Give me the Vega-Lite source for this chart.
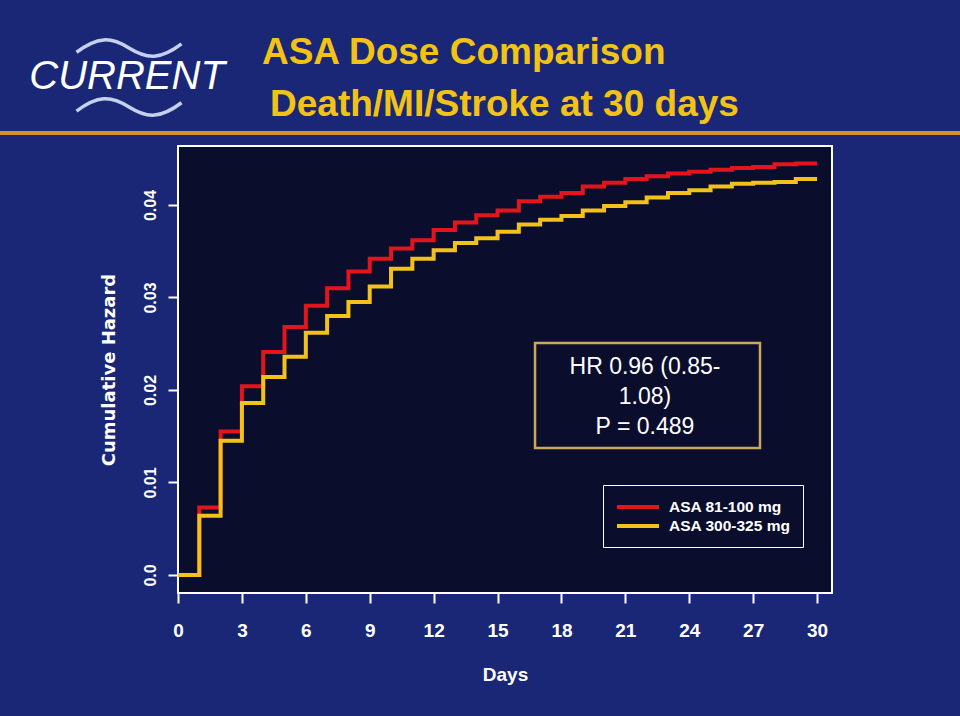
{
  "$schema": "https://vega.github.io/schema/vega-lite/v6.json",
  "width": 654,
  "height": 447,
  "autosize": {"type": "none"},
  "padding": {"left": 178, "top": 146, "right": 128, "bottom": 123},
  "background": "#1a2776",
  "config": {
    "view": {"fill": "#0a0e2c", "stroke": "#ffffff", "strokeWidth": 2},
    "axis": {"grid": false, "domain": false, "tickColor": "#ffffff", "tickWidth": 2, "tickSize": 10, "labelColor": "#ffffff", "titleColor": "#ffffff"}
  },
  "data": {
    "values": [
      {"day": 0, "hazard": 0.0, "group": "ASA 81-100 mg"},
      {"day": 1, "hazard": 0.0073, "group": "ASA 81-100 mg"},
      {"day": 2, "hazard": 0.0155, "group": "ASA 81-100 mg"},
      {"day": 3, "hazard": 0.0204, "group": "ASA 81-100 mg"},
      {"day": 4, "hazard": 0.0241, "group": "ASA 81-100 mg"},
      {"day": 5, "hazard": 0.0268, "group": "ASA 81-100 mg"},
      {"day": 6, "hazard": 0.0291, "group": "ASA 81-100 mg"},
      {"day": 7, "hazard": 0.031, "group": "ASA 81-100 mg"},
      {"day": 8, "hazard": 0.0328, "group": "ASA 81-100 mg"},
      {"day": 9, "hazard": 0.0342, "group": "ASA 81-100 mg"},
      {"day": 10, "hazard": 0.0353, "group": "ASA 81-100 mg"},
      {"day": 11, "hazard": 0.0362, "group": "ASA 81-100 mg"},
      {"day": 12, "hazard": 0.0373, "group": "ASA 81-100 mg"},
      {"day": 13, "hazard": 0.0381, "group": "ASA 81-100 mg"},
      {"day": 14, "hazard": 0.0389, "group": "ASA 81-100 mg"},
      {"day": 15, "hazard": 0.0394, "group": "ASA 81-100 mg"},
      {"day": 16, "hazard": 0.0404, "group": "ASA 81-100 mg"},
      {"day": 17, "hazard": 0.0409, "group": "ASA 81-100 mg"},
      {"day": 18, "hazard": 0.0413, "group": "ASA 81-100 mg"},
      {"day": 19, "hazard": 0.042, "group": "ASA 81-100 mg"},
      {"day": 20, "hazard": 0.0424, "group": "ASA 81-100 mg"},
      {"day": 21, "hazard": 0.0428, "group": "ASA 81-100 mg"},
      {"day": 22, "hazard": 0.0431, "group": "ASA 81-100 mg"},
      {"day": 23, "hazard": 0.0434, "group": "ASA 81-100 mg"},
      {"day": 24, "hazard": 0.0436, "group": "ASA 81-100 mg"},
      {"day": 25, "hazard": 0.0438, "group": "ASA 81-100 mg"},
      {"day": 26, "hazard": 0.044, "group": "ASA 81-100 mg"},
      {"day": 27, "hazard": 0.0441, "group": "ASA 81-100 mg"},
      {"day": 28, "hazard": 0.0444, "group": "ASA 81-100 mg"},
      {"day": 29, "hazard": 0.0445, "group": "ASA 81-100 mg"},
      {"day": 30, "hazard": 0.0445, "group": "ASA 81-100 mg"},
      {"day": 0, "hazard": 0.0, "group": "ASA 300-325 mg"},
      {"day": 1, "hazard": 0.0064, "group": "ASA 300-325 mg"},
      {"day": 2, "hazard": 0.0145, "group": "ASA 300-325 mg"},
      {"day": 3, "hazard": 0.0186, "group": "ASA 300-325 mg"},
      {"day": 4, "hazard": 0.0214, "group": "ASA 300-325 mg"},
      {"day": 5, "hazard": 0.0236, "group": "ASA 300-325 mg"},
      {"day": 6, "hazard": 0.0262, "group": "ASA 300-325 mg"},
      {"day": 7, "hazard": 0.028, "group": "ASA 300-325 mg"},
      {"day": 8, "hazard": 0.0295, "group": "ASA 300-325 mg"},
      {"day": 9, "hazard": 0.0312, "group": "ASA 300-325 mg"},
      {"day": 10, "hazard": 0.0331, "group": "ASA 300-325 mg"},
      {"day": 11, "hazard": 0.0342, "group": "ASA 300-325 mg"},
      {"day": 12, "hazard": 0.0351, "group": "ASA 300-325 mg"},
      {"day": 13, "hazard": 0.0359, "group": "ASA 300-325 mg"},
      {"day": 14, "hazard": 0.0364, "group": "ASA 300-325 mg"},
      {"day": 15, "hazard": 0.0371, "group": "ASA 300-325 mg"},
      {"day": 16, "hazard": 0.0379, "group": "ASA 300-325 mg"},
      {"day": 17, "hazard": 0.0384, "group": "ASA 300-325 mg"},
      {"day": 18, "hazard": 0.0388, "group": "ASA 300-325 mg"},
      {"day": 19, "hazard": 0.0394, "group": "ASA 300-325 mg"},
      {"day": 20, "hazard": 0.0399, "group": "ASA 300-325 mg"},
      {"day": 21, "hazard": 0.0403, "group": "ASA 300-325 mg"},
      {"day": 22, "hazard": 0.0408, "group": "ASA 300-325 mg"},
      {"day": 23, "hazard": 0.0413, "group": "ASA 300-325 mg"},
      {"day": 24, "hazard": 0.0416, "group": "ASA 300-325 mg"},
      {"day": 25, "hazard": 0.042, "group": "ASA 300-325 mg"},
      {"day": 26, "hazard": 0.0423, "group": "ASA 300-325 mg"},
      {"day": 27, "hazard": 0.0424, "group": "ASA 300-325 mg"},
      {"day": 28, "hazard": 0.0425, "group": "ASA 300-325 mg"},
      {"day": 29, "hazard": 0.0428, "group": "ASA 300-325 mg"},
      {"day": 30, "hazard": 0.0428, "group": "ASA 300-325 mg"}
    ]
  },
  "layer": [
    {
      "mark": {"type": "line", "interpolate": "step-after", "strokeWidth": 4},
      "encoding": {
        "x": {
          "field": "day", "type": "quantitative",
          "scale": {"domain": [0, 30.7], "nice": false, "zero": false},
          "axis": {
            "values": [0, 3, 6, 9, 12, 15, 18, 21, 24, 27, 30],
            "format": "d",
            "title": "Days",
            "labelFont": "Liberation Sans, Arial, sans-serif",
            "labelFontSize": 19,
            "labelFontWeight": "bold",
            "labelPadding": 18,
            "labelFlush": false,
            "titleFont": "Liberation Sans, Arial, sans-serif",
            "titleFontSize": 19,
            "titleFontWeight": "bold",
            "titlePadding": 25
          }
        },
        "y": {
          "field": "hazard", "type": "quantitative",
          "scale": {"domain": [-0.00195, 0.04638], "nice": false, "zero": false},
          "axis": {
            "values": [0, 0.01, 0.02, 0.03, 0.04],
            "labelExpr": "datum.value == 0 ? '0.0' : format(datum.value, '.2f')",
            "title": "Cumulative Hazard",
            "labelAngle": 270,
            "labelFont": "Liberation Sans, Arial, sans-serif",
            "labelFontSize": 16,
            "labelFontWeight": "bold",
            "labelPadding": 10,
            "labelFlush": false,
            "titleFont": "DejaVu Sans, sans-serif",
            "titleFontSize": 18,
            "titleFontWeight": "bold",
            "titlePadding": 24
          }
        },
        "color": {
          "field": "group", "type": "nominal",
          "scale": {"domain": ["ASA 81-100 mg", "ASA 300-325 mg"], "range": ["#e3141c", "#f2c21a"]},
          "legend": {
            "orient": "none",
            "legendX": 425,
            "legendY": 339,
            "title": null,
            "symbolType": "M-1,0H4.25",
            "symbolSize": 256,
            "symbolStrokeWidth": 4,
            "labelColor": "#ffffff",
            "labelFont": "Liberation Sans, Arial, sans-serif",
            "labelFontSize": 15.5,
            "labelFontWeight": "bold",
            "labelOffset": 34,
            "strokeColor": "#ffffff",
            "fillColor": "#0a0e2c",
            "padding": 12,
            "rowPadding": 0
          }
        }
      }
    },
    {
      "data": {"values": [{}]},
      "mark": {"type": "rect", "fill": "#0a0e2c", "stroke": "#c9a85a", "strokeWidth": 2.5},
      "encoding": {
        "x": {"datum": 16.76, "type": "quantitative"},
        "x2": {"datum": 27.32},
        "y": {"datum": 0.02508, "type": "quantitative"},
        "y2": {"datum": 0.01373}
      }
    },
    {
      "data": {"values": [{}]},
      "mark": {
        "type": "text",
        "text": ["HR 0.96 (0.85-", "1.08)", "P = 0.489"],
        "align": "center",
        "baseline": "middle",
        "lineHeight": 30,
        "font": "Liberation Sans, Arial, sans-serif",
        "fontSize": 23,
        "color": "#ffffff"
      },
      "encoding": {
        "x": {"datum": 21.92, "type": "quantitative"},
        "y": {"datum": 0.02249, "type": "quantitative"}
      }
    },
    {
      "data": {"values": [{}]},
      "mark": {"type": "rule", "color": "#d98e2c", "strokeWidth": 4},
      "encoding": {
        "x": {"datum": -8.4, "type": "quantitative"},
        "x2": {"datum": 36.8},
        "y": {"datum": 0.04778, "type": "quantitative"}
      }
    },
    {
      "data": {"values": [{}]},
      "mark": {
        "type": "text",
        "text": "ASA Dose Comparison",
        "align": "left",
        "baseline": "alphabetic",
        "font": "Liberation Sans, Arial, sans-serif",
        "fontSize": 37,
        "fontWeight": "bold",
        "color": "#f2c314"
      },
      "encoding": {
        "x": {"datum": 3.94, "type": "quantitative"},
        "y": {"datum": 0.05524, "type": "quantitative"}
      }
    },
    {
      "data": {"values": [{}]},
      "mark": {
        "type": "text",
        "text": "Death/MI/Stroke at 30 days",
        "align": "left",
        "baseline": "alphabetic",
        "font": "Liberation Sans, Arial, sans-serif",
        "fontSize": 37,
        "fontWeight": "bold",
        "color": "#f2c314"
      },
      "encoding": {
        "x": {"datum": 4.32, "type": "quantitative"},
        "y": {"datum": 0.04962, "type": "quantitative"}
      }
    },
    {
      "data": {"values": [{}]},
      "mark": {
        "type": "text",
        "text": "CURRENT",
        "align": "center",
        "baseline": "middle",
        "font": "Liberation Sans, Arial, sans-serif",
        "fontSize": 40,
        "fontStyle": "italic",
        "color": "#ffffff"
      },
      "encoding": {
        "x": {"datum": -2.39, "type": "quantitative"},
        "y": {"datum": 0.05384, "type": "quantitative"}
      }
    },
    {
      "data": {"values": [{}]},
      "mark": {
        "type": "point",
        "shape": "M-1,0.08C-0.6,-0.22 -0.35,-0.22 0,0C0.35,0.22 0.6,0.22 1,-0.08",
        "filled": false,
        "stroke": "#c5d0ee",
        "strokeWidth": 3.5,
        "opacity": 1,
        "size": 11025
      },
      "encoding": {
        "x": {"datum": -2.3, "type": "quantitative"},
        "y": {"datum": 0.05697, "type": "quantitative"}
      }
    },
    {
      "data": {"values": [{}]},
      "mark": {
        "type": "point",
        "shape": "M-1,0.08C-0.6,-0.22 -0.35,-0.22 0,0C0.35,0.22 0.6,0.22 1,-0.08",
        "filled": false,
        "stroke": "#c5d0ee",
        "strokeWidth": 3.5,
        "opacity": 1,
        "size": 11025
      },
      "encoding": {
        "x": {"datum": -2.3, "type": "quantitative"},
        "y": {"datum": 0.0506, "type": "quantitative"}
      }
    }
  ]
}
